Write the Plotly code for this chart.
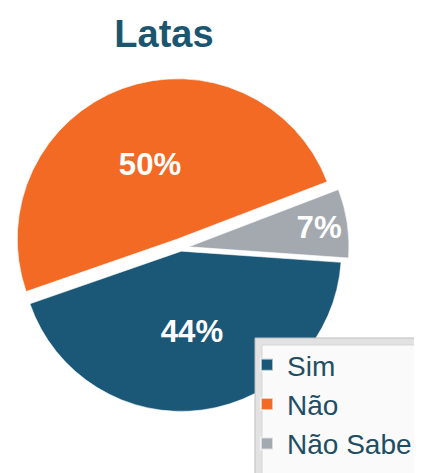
import plotly.graph_objects as go

categories = ["Sim", "Não", "Não Sabe"]
values = [44, 50, 7]
colors = ["#1B5878", "#F36A24", "#A4A9AF"]
title_text = "Latas"

fig = go.Figure()
fig.add_trace(go.Pie(
    labels=categories,
    values=values,
    sort=False,
    direction="clockwise",
    rotation=94,
    pull=[0.02, 0.06, 0.05],
    marker=dict(colors=colors, line=dict(color="rgba(255,255,255,0.6)", width=1)),
    texttemplate="<b>%{value}%</b>",
    textposition="inside",
    insidetextorientation="horizontal",
    textfont=dict(family="Liberation Sans, Arial", size=34, color="white"),
    domain=dict(x=[0.007, 0.812], y=[0.1332, 0.852]),
    hoverinfo="label+value",
))

# legend frame (bevelled box)
fig.add_shape(type="rect", xref="paper", yref="paper", layer="above",
              x0=247 / 422, x1=420 / 422, y0=-0.02, y1=1 - 330 / 473,
              fillcolor="#E2E2E2", line=dict(color="#BEBEBE", width=1))
fig.add_shape(type="rect", xref="paper", yref="paper", layer="above",
              x0=254 / 422, x1=413 / 422, y0=-0.02, y1=1 - 337 / 473,
              fillcolor="#FAFAFA", line=dict(color="#D6D6D6", width=1))

fig.update_layout(
    width=422, height=473,
    margin=dict(l=0, r=0, t=0, b=0),
    paper_bgcolor="white",
    plot_bgcolor="white",
    title=dict(text="<b>" + title_text + "</b>", x=156 / 422, xanchor="center",
               y=1 - 26 / 473, yanchor="middle",
               font=dict(family="Liberation Sans, Arial", size=38, color="#1B5670")),
    uniformtext=dict(minsize=10, mode="show"),
    legend=dict(
        x=239 / 422, xanchor="left",
        y=1 - 332 / 473, yanchor="top",
        bgcolor="rgba(0,0,0,0)",
        borderwidth=0,
        font=dict(family="Liberation Sans, Arial", size=28, color="#1F4E64"),
        itemsizing="constant",
    ),
)

fig.write_html("out.html")
